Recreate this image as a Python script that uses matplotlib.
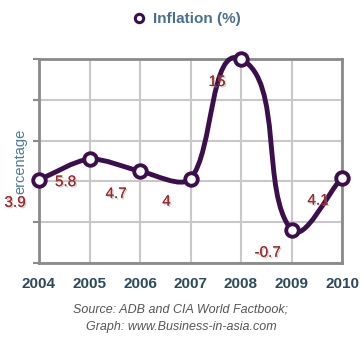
import matplotlib
matplotlib.use('Agg')
import matplotlib.pyplot as plt
import matplotlib.patheffects as pe
from matplotlib.path import Path
from matplotlib.patches import PathPatch
from matplotlib.lines import Line2D
import numpy as np

plt.rcParams['font.family'] = ['Liberation Sans', 'DejaVu Sans']

years = [2004, 2005, 2006, 2007, 2008, 2009, 2010]
inflation = [3.9, 5.8, 4.7, 4.0, 15.0, -0.7, 4.1]
labels = ['3.9', '5.8', '4.7', '4', '15', '-0.7', '4.1']
y_ticks = [-3.75, 0, 3.75, 7.5, 11.25, 15]

line_col = '#3b0f4c'
label_col = '#9c2b2b'
grid_col = '#c8c8c8'
frame_col = '#8a8a8a'

fig = plt.figure(figsize=(3.63, 3.41), dpi=100)
ax = fig.add_axes([39/363, 1-263/341, 303/363, 204/341])

ax.set_xlim(years[0], years[-1])
ax.set_ylim(y_ticks[0], y_ticks[-1])
ax.set_xticks(years)
ax.set_xticklabels([str(y) for y in years], fontsize=11, fontweight='bold', color='#2c4a5e')
ax.set_yticks(y_ticks)
ax.set_yticklabels([])
ax.tick_params(axis='x', length=0, pad=10)
ax.tick_params(axis='y', length=4, width=1.5, color=frame_col)
ax.grid(True, color=grid_col, lw=1.5)
ax.set_axisbelow(True)
for s in ax.spines.values():
    s.set_color(frame_col)
    s.set_linewidth(2)

# smooth line through the points: tangents worked out in screen space,
# control arms scaled by segment length (like spreadsheet smoothing)
sx = 303 / (years[-1] - years[0])
sy = 204 / (y_ticks[-1] - y_ticks[0])
X = np.array(years, dtype=float) * sx
Y = np.array(inflation) * sy
n = len(X)
k = 0.27
D = []
for i in range(n):
    a = max(i - 1, 0)
    b = min(i + 1, n - 1)
    d = np.array([X[b] - X[a], Y[b] - Y[a]])
    D.append(d / np.hypot(*d))
verts = [(X[0] / sx, Y[0] / sy)]
codes = [Path.MOVETO]
for i in range(n - 1):
    L = np.hypot(X[i+1] - X[i], Y[i+1] - Y[i])
    c1 = np.array([X[i], Y[i]]) + D[i] * L * k
    c2 = np.array([X[i+1], Y[i+1]]) - D[i+1] * L * k
    verts += [(c1[0] / sx, c1[1] / sy), (c2[0] / sx, c2[1] / sy), (X[i+1] / sx, Y[i+1] / sy)]
    codes += [Path.CURVE4] * 3
ax.add_patch(PathPatch(Path(verts, codes), fill=False, ec=line_col, lw=3.5,
                       capstyle='round', joinstyle='round', clip_on=False, zorder=3))
ax.plot(years, inflation, ls='none', marker='o', ms=9, mfc='white', mec=line_col,
        mew=2.8, clip_on=False, zorder=4)

shadow = [pe.withSimplePatchShadow(offset=(1, -1), shadow_rgbFace='#999999', alpha=0.5), pe.Normal()]
for xi, yi, lab in zip(years, inflation, labels):
    ax.annotate(lab, (xi, yi), xytext=(-24, -23), textcoords='offset pixels',
                ha='center', va='center', fontsize=11, color=label_col,
                path_effects=shadow, zorder=5, annotation_clip=False)

fig.text(20/363, 1-161/341, 'ercentage', rotation=90, ha='center', va='center',
         fontsize=10.5, color='#4a7a9a')

handle = Line2D([], [], ls='none', marker='o', ms=6, mfc='white', mec=line_col, mew=2.2)
fig.legend([handle], ['Inflation (%)'], loc='center', bbox_to_anchor=(186/363, 1-19/341),
           frameon=False, prop={'weight': 'bold', 'size': 11}, labelcolor='#4a7090',
           handletextpad=0.4, handlelength=1.0)

fig.text(181/363, 1-310/341, 'Source: ADB and CIA World Factbook;', ha='center', va='center',
         fontsize=9, style='italic', color='#555555')
fig.text(181/363, 1-327/341, 'Graph: www.Business-in-asia.com', ha='center', va='center',
         fontsize=9, style='italic', color='#555555')

fig.savefig('out.png', dpi=100)
